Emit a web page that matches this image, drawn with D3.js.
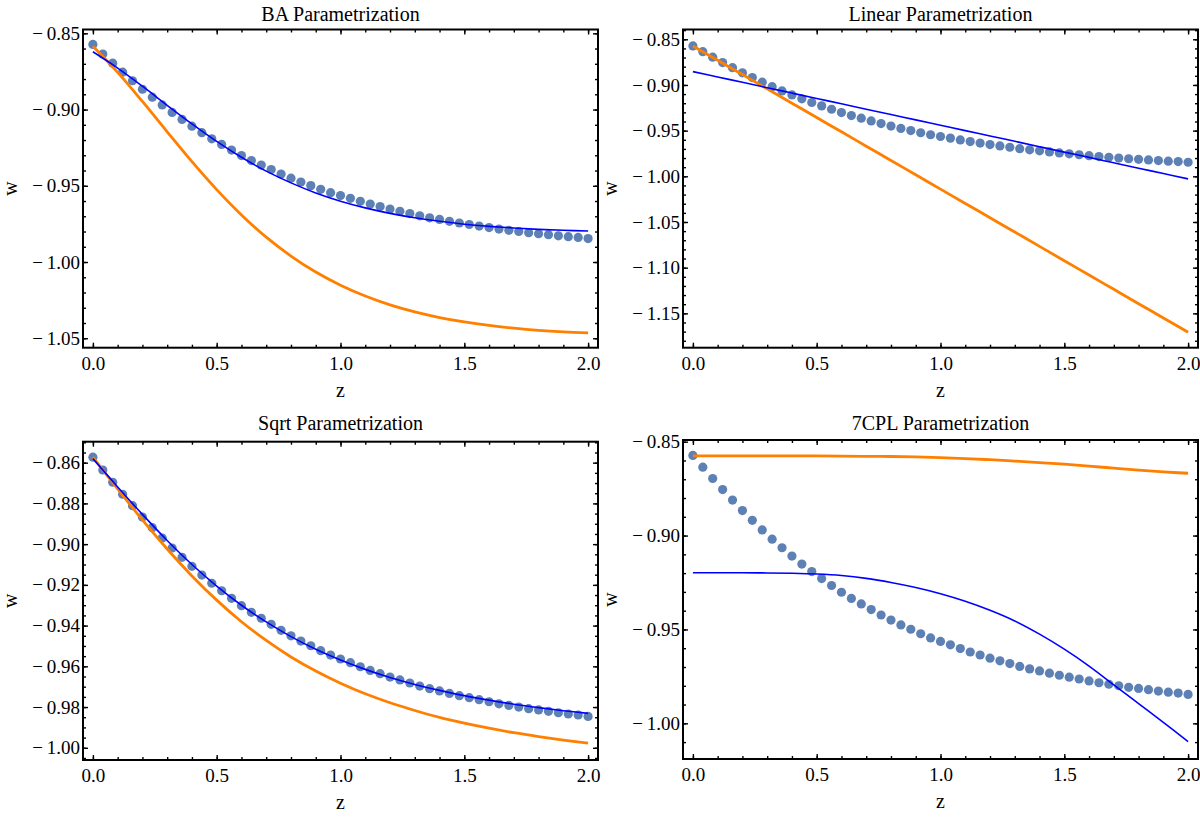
<!DOCTYPE html>
<html>
<head>
<meta charset="utf-8">
<script src="https://cdn.jsdelivr.net/npm/d3@7"></script>
<style>
body { margin: 0; background: #fff; }
svg text { font-family: "Liberation Serif", "Times New Roman", serif; fill: #000; }
</style>
</head>
<body>
<div id="chart"></div>
<script>
var w = 1200;
var h = 818;

// sample points (same in every panel)
var zDots = [0, 0.04, 0.08, 0.12, 0.16, 0.2, 0.24, 0.28, 0.32, 0.36, 0.4, 0.44, 0.48,
  0.52, 0.56, 0.6, 0.64, 0.68, 0.72, 0.76, 0.8, 0.84, 0.88, 0.92, 0.96, 1.0,
  1.04, 1.08, 1.12, 1.16, 1.2, 1.24, 1.28, 1.32, 1.36, 1.4, 1.44, 1.48, 1.52,
  1.56, 1.6, 1.64, 1.68, 1.72, 1.76, 1.8, 1.84, 1.88, 1.92, 1.96, 2.0];
var wDots = [-0.8573, -0.8636, -0.8696, -0.8755, -0.8811, -0.8867, -0.8919, -0.8970,
  -0.9019, -0.9065, -0.9109, -0.9152, -0.9192, -0.9229, -0.9266, -0.9302, -0.9335,
  -0.9364, -0.9394, -0.9423, -0.9450, -0.9476, -0.9499, -0.9523, -0.9545, -0.9564,
  -0.9582, -0.9602, -0.9620, -0.9636, -0.9653, -0.9667, -0.9682, -0.9697, -0.9710,
  -0.9721, -0.9733, -0.9744, -0.9754, -0.9764, -0.9774, -0.9784, -0.9792, -0.9800,
  -0.9808, -0.9814, -0.9821, -0.9828, -0.9834, -0.9839, -0.9846];

// z values where the fitted curves were read
var zGrid = [0, 0.1, 0.2, 0.3, 0.4, 0.5, 0.6, 0.7, 0.8, 0.9, 1.0,
  1.1, 1.2, 1.3, 1.4, 1.5, 1.6, 1.7, 1.8, 1.9, 2.0];

var baBlue = [-0.8621, -0.8728, -0.8847, -0.8972, -0.9094, -0.9209, -0.9313, -0.9404,
  -0.9481, -0.9547, -0.9601, -0.9645, -0.9681, -0.9710, -0.9733, -0.9752, -0.9766,
  -0.9777, -0.9786, -0.9792, -0.9797];
var baOrange = [-0.8585, -0.8756, -0.8947, -0.9146, -0.9342, -0.9525, -0.9691, -0.9837,
  -0.9961, -1.0066, -1.0152, -1.0223, -1.0281, -1.0327, -1.0364, -1.0393, -1.0416,
  -1.0434, -1.0448, -1.0458, -1.0465];

var linBlue = [-0.8854, -0.8913, -0.8971, -0.9030, -0.9089, -0.9148, -0.9206, -0.9265,
  -0.9324, -0.9382, -0.9441, -0.9500, -0.9558, -0.9617, -0.9676, -0.9735, -0.9793,
  -0.9852, -0.9911, -0.9969, -1.0028];
var linOrange = [-0.8573, -0.8730, -0.8886, -0.9043, -0.9200, -0.9357, -0.9513, -0.9670,
  -0.9827, -0.9983, -1.0140, -1.0297, -1.0453, -1.0610, -1.0767, -1.0924, -1.1080,
  -1.1237, -1.1394, -1.1550, -1.1707];

var sqrtBlue = [-0.8580, -0.8719, -0.8854, -0.8982, -0.9100, -0.9206, -0.9300, -0.9382,
  -0.9454, -0.9516, -0.9569, -0.9615, -0.9655, -0.9689, -0.9718, -0.9744, -0.9766,
  -0.9786, -0.9803, -0.9818, -0.9831];
var sqrtOrange = [-0.8573, -0.8729, -0.8881, -0.9024, -0.9156, -0.9275, -0.9381, -0.9473,
  -0.9554, -0.9623, -0.9683, -0.9735, -0.9779, -0.9817, -0.9851, -0.9879, -0.9904,
  -0.9926, -0.9945, -0.9962, -0.9977];

var cplBlue = [-0.9198, -0.9198, -0.9198, -0.9199, -0.9201, -0.9205, -0.9213, -0.9228,
  -0.9250, -0.9277, -0.9310, -0.9350, -0.9398, -0.9455, -0.9525, -0.9605, -0.9695,
  -0.9795, -0.9895, -0.9995, -1.0097];
var cplOrange = [-0.8576, -0.8576, -0.8576, -0.8576, -0.8576, -0.8576, -0.8577, -0.8578,
  -0.8579, -0.8581, -0.8585, -0.8590, -0.8596, -0.8603, -0.8611, -0.8620, -0.8630,
  -0.8641, -0.8652, -0.8661, -0.8668];

// tick labels
var xTicks = [0, 0.5, 1.0, 1.5, 2.0];
var yTicksBA = [-1.05, -1.00, -0.95, -0.90, -0.85];
var yTicksLin = [-1.15, -1.10, -1.05, -1.00, -0.95, -0.90, -0.85];
var yTicksSqrt = [-1.00, -0.98, -0.96, -0.94, -0.92, -0.90, -0.88, -0.86];
var yTicksCpl = [-1.00, -0.95, -0.90, -0.85];

var dotColor = "#5e81b5";
var blueColor = "#0000ff";
var orangeColor = "#ff8000";

var svg = d3.select("#chart")
  .append("svg")
  .attr("width", w)
  .attr("height", h);

var panels = [
  { title: "BA Parametrization", left: 83, top: 29.5, right: 598, bottom: 347.7,
    yDomain: [-1.0562, -0.8475], yTicks: yTicksBA, yStep: 0.01,
    blue: baBlue, orange: baOrange, titleY: 21, zY: 397 },
  { title: "Linear Parametrization", left: 683, top: 29.5, right: 1198, bottom: 347.7,
    yDomain: [-1.1876, -0.8393], yTicks: yTicksLin, yStep: 0.01,
    blue: linBlue, orange: linOrange, titleY: 21, zY: 397 },
  { title: "Sqrt Parametrization", left: 83, top: 441.7, right: 598, bottom: 760,
    yDomain: [-1.006, -0.8497], yTicks: yTicksSqrt, yStep: 0.005,
    blue: sqrtBlue, orange: sqrtOrange, titleY: 429.5, zY: 809 },
  { title: "7CPL Parametrization", left: 683, top: 440, right: 1198, bottom: 759,
    yDomain: [-1.019, -0.8491], yTicks: yTicksCpl, yStep: 0.01,
    blue: cplBlue, orange: cplOrange, titleY: 430, zY: 808 }
];

function fmt(d) {
  var s = Math.abs(d).toFixed(2);
  return d < 0 ? "\u2212\u2009" + s : s;
}

function minorTicks(domain, step) {
  var out = [];
  var a = Math.ceil(domain[0] / step - 1e-6);
  var b = Math.floor(domain[1] / step + 1e-6);
  for (var i = a; i <= b; i++) out.push(+(i * step).toFixed(4));
  return out;
}

panels.forEach(function(p) {
  var xScale = d3.scaleLinear().domain([-0.04, 2.04]).range([p.left, p.right]);
  var yScale = d3.scaleLinear().domain(p.yDomain).range([p.bottom, p.top]);

  var g = svg.append("g").attr("class", "panel");
  var pw = p.right - p.left;
  var ph = p.bottom - p.top;

  var xMinor = minorTicks([-0.04, 2.04], 0.1);
  var yMinor = minorTicks(p.yDomain, p.yStep);

  // minor ticks, all four sides
  g.append("g").attr("transform", "translate(0," + p.bottom + ")")
    .call(d3.axisBottom(xScale).tickValues(xMinor).tickSize(-3).tickFormat(""));
  g.append("g").attr("transform", "translate(0," + p.top + ")")
    .call(d3.axisTop(xScale).tickValues(xMinor).tickSize(-3).tickFormat(""));
  g.append("g").attr("transform", "translate(" + p.left + ",0)")
    .call(d3.axisLeft(yScale).tickValues(yMinor).tickSize(-3).tickFormat(""));
  g.append("g").attr("transform", "translate(" + p.right + ",0)")
    .call(d3.axisRight(yScale).tickValues(yMinor).tickSize(-3).tickFormat(""));

  // major ticks
  g.append("g").attr("class", "xAxis").attr("transform", "translate(0," + p.bottom + ")")
    .call(d3.axisBottom(xScale).tickValues(xTicks).tickSize(-5).tickPadding(9)
      .tickFormat(function(d) { return d.toFixed(1); }));
  g.append("g").attr("transform", "translate(0," + p.top + ")")
    .call(d3.axisTop(xScale).tickValues(xTicks).tickSize(-5).tickFormat(""));
  g.append("g").attr("class", "yAxis").attr("transform", "translate(" + p.left + ",0)")
    .call(d3.axisLeft(yScale).tickValues(p.yTicks).tickSize(-5).tickPadding(3)
      .tickFormat(fmt));
  g.append("g").attr("transform", "translate(" + p.right + ",0)")
    .call(d3.axisRight(yScale).tickValues(p.yTicks).tickSize(-5).tickFormat(""));

  g.selectAll(".domain").remove();
  g.selectAll(".tick line").attr("stroke", "#000").attr("stroke-width", 1.4);
  g.selectAll(".tick text").attr("font-size", 19)
    .style("font-family", "'Liberation Serif', 'Times New Roman', serif")
    .attr("fill", "#000");

  // frame
  g.append("rect")
    .attr("x", p.left).attr("y", p.top)
    .attr("width", pw).attr("height", ph)
    .attr("fill", "none").attr("stroke", "#000").attr("stroke-width", 2);

  // title and axis labels
  g.append("text")
    .attr("x", (p.left + p.right) / 2).attr("y", p.titleY)
    .attr("text-anchor", "middle").attr("font-size", 20)
    .text(p.title);
  g.append("text")
    .attr("x", (p.left + p.right) / 2).attr("y", p.zY)
    .attr("text-anchor", "middle").attr("font-size", 20)
    .text("z");
  g.append("text")
    .attr("transform", "translate(" + (p.left - 66) + "," + ((p.top + p.bottom) / 2) + ")rotate(-90)")
    .attr("text-anchor", "middle").attr("font-size", 20)
    .text("w");

  var clip = "clip" + p.left + "_" + Math.round(p.top);
  svg.append("clipPath").attr("id", clip)
    .append("rect").attr("x", p.left).attr("y", p.top).attr("width", pw).attr("height", ph);

  var plot = g.append("g").attr("clip-path", "url(#" + clip + ")");

  // data points
  plot.selectAll("circle")
    .data(zDots)
    .enter()
    .append("circle")
    .attr("cx", function(d) { return xScale(d); })
    .attr("cy", function(d, i) { return yScale(wDots[i]); })
    .attr("r", 4.6)
    .attr("fill", dotColor);

  var line = d3.line()
    .x(function(d) { return xScale(d); })
    .curve(d3.curveCatmullRom);

  plot.append("path")
    .attr("d", line.y(function(d, i) { return yScale(p.orange[i]); })(zGrid))
    .attr("fill", "none").attr("stroke", orangeColor).attr("stroke-width", 2.8);

  plot.append("path")
    .attr("d", line.y(function(d, i) { return yScale(p.blue[i]); })(zGrid))
    .attr("fill", "none").attr("stroke", blueColor).attr("stroke-width", 1.6);
});
</script>
</body>
</html>
